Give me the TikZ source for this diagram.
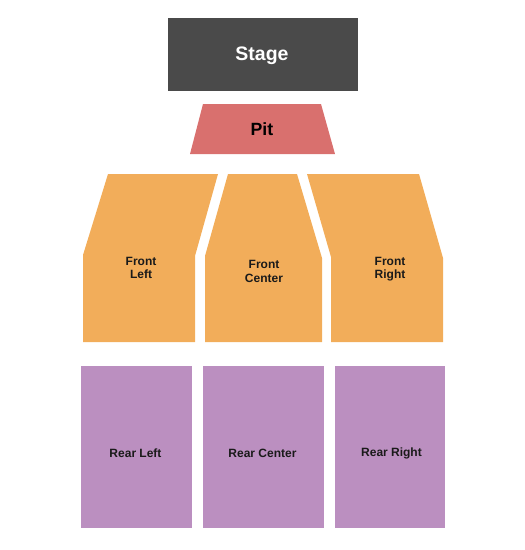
\documentclass[tikz,border=0pt]{standalone}
\usepackage{fontspec}
\setmainfont{Liberation Sans}
\definecolor{stagec}{HTML}{4A4A4A}
\definecolor{pitc}{HTML}{D9706E}
\definecolor{frontc}{HTML}{F2AD5A}
\definecolor{rearc}{HTML}{BB8FC0}
\definecolor{labc}{HTML}{1A1A1A}
\begin{document}
\begin{tikzpicture}[x=1pt,y=-1pt,
  lab/.style={font=\bfseries\fontsize{12}{13.7}\selectfont,text=labc,align=center,inner sep=0pt},
  big/.style={font=\bfseries\fontsize{19.5}{22}\selectfont,inner sep=0pt}]
\useasboundingbox (0,0) rectangle (525,550);
% Stage
\fill[stagec] (168,18) rectangle (358,91);
\node[big,text=white] (stage) at (262,56) {Stage};
% Pit
\fill[pitc] (203,104) -- (321,104) -- (335,154) -- (190,154) -- cycle;
\node[big,font=\bfseries\fontsize{17.7}{20}\selectfont,text=black] (pit) at (262,129) {Pit};
% Front sections
\fill[frontc] (108,174) -- (218,174) -- (195,256) -- (195,342) -- (83,342) -- (83,255) -- cycle;
\fill[frontc] (228,174) -- (297,174) -- (322,258) -- (322,342) -- (205,342) -- (205,256) -- cycle;
\fill[frontc] (307,174) -- (419,174) -- (443,258) -- (443,342) -- (331,342) -- (331,257) -- cycle;
\node[lab] (fl) at (141,268) {Front\\Left};
\node[lab] (fc) at (264,271.5) {Front\\Center};
\node[lab] (fr) at (390,269) {Front\\Right};
% Rear sections
\fill[rearc] (81,366) rectangle (192,528);
\fill[rearc] (203,366) rectangle (324,528);
\fill[rearc] (335,366) rectangle (445,528);
\node[lab] (rl) at (135.5,453) {Rear Left};
\node[lab] (rc) at (262.5,453) {Rear Center};
\node[lab] (rr) at (391.5,453) {Rear Right};
\end{tikzpicture}
\end{document}
